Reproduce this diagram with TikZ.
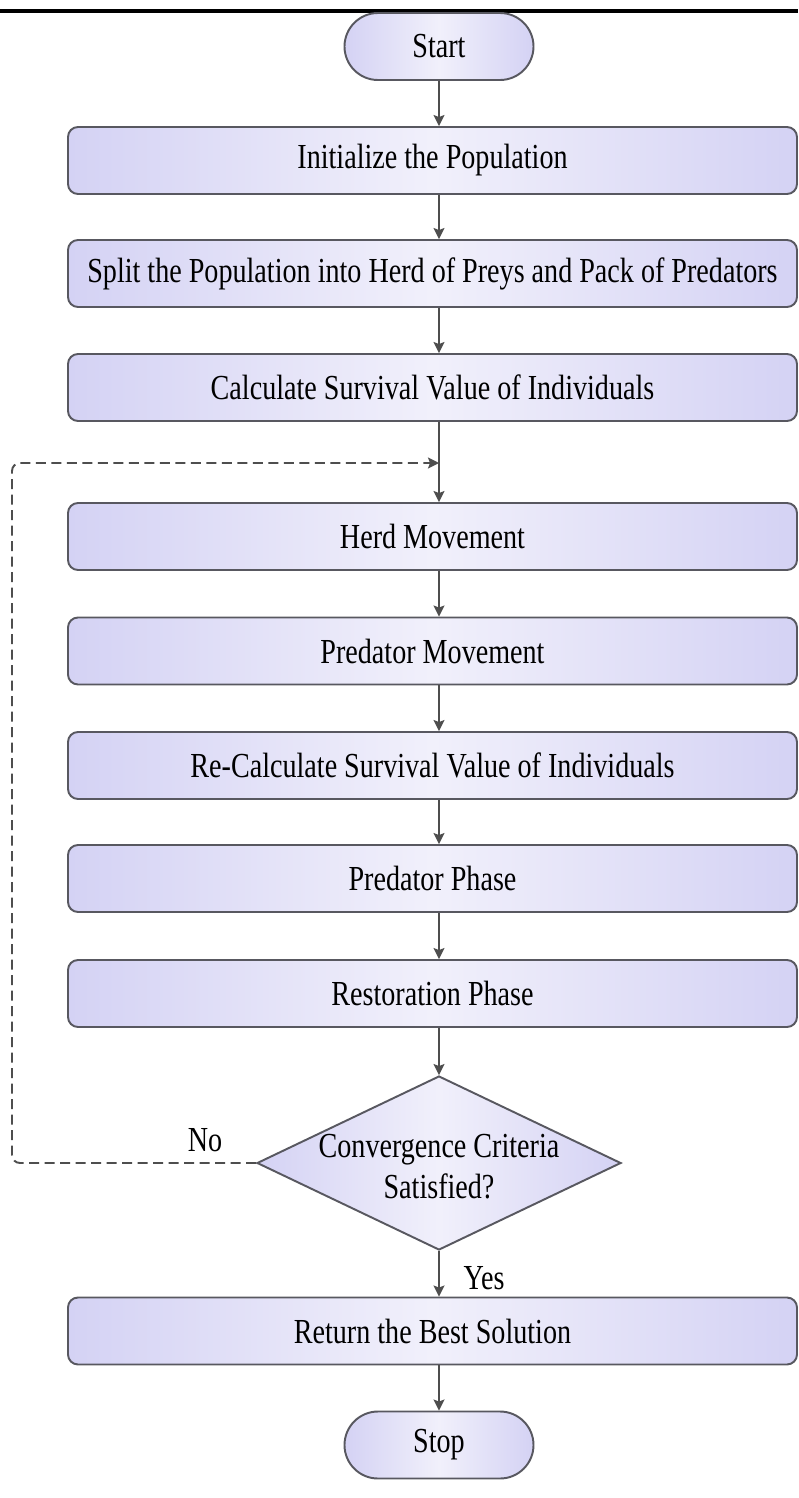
\documentclass[tikz,border=0pt]{standalone}
\usepackage{fontspec}
\setmainfont{Liberation Serif}[FakeStretch=0.8]
\usepackage{tikz}
\usetikzlibrary{shapes.geometric, arrows.meta, positioning}
\definecolor{lavdark}{RGB}{212, 210, 244}
\definecolor{lavlight}{RGB}{241, 240, 251}
\definecolor{edgegray}{RGB}{88, 88, 96}
\definecolor{flowgray}{RGB}{78, 78, 78}

\begin{document}
\begin{tikzpicture}[
  stepbox/.style={draw=edgegray, line width=1.1pt, rounded corners=0.2cm,
    left color=lavdark, right color=lavdark, middle color=lavlight,
    minimum width=14.58cm, minimum height=1.34cm, inner sep=0pt,
    font=\fontsize{20}{23}\selectfont},
  termbox/.style={stepbox, rounded corners=0.67cm, minimum width=3.78cm},
  decision/.style={draw=edgegray, line width=1.1pt, diamond,
    left color=lavdark, right color=lavdark, middle color=lavlight,
    minimum width=7.28cm, minimum height=3.48cm, inner sep=0pt,
    font=\fontsize{20}{23}\selectfont},
  flow/.style={-{Stealth[length=2.2mm, width=2.2mm, inset=0.4mm]}, line width=1.1pt, flowgray},
  loopback/.style={flow, dash pattern=on 0.2cm off 0.11cm, rounded corners=0.16cm},
  lbl/.style={font=\fontsize{20}{23}\selectfont}
]
  \useasboundingbox (0, 0) rectangle (15.96, -29.96);
  \fill[white] (0, 0) rectangle (15.96, -29.96);

  % Page rule
  \draw[line width=2.2pt] (0, -0.22) -- (15.96, -0.22);

  % Set-up
  \node[termbox] (start) at (8.78, -0.93) {Start};
  \node[stepbox] (init) at (8.65, -3.21) {Initialize the Population};
  \node[stepbox] (split) at (8.65, -5.47) {Split the Population into Herd of Preys and Pack of Predators};
  \node[stepbox] (calc) at (8.65, -7.75) {Calculate Survival Value of Individuals};
  \draw[flow] (start) -- (init.north -| start);
  \draw[flow] (init.south -| start) -- (split.north -| start);
  \draw[flow] (split.south -| start) -- (calc.north -| start);

  % Main loop
  \coordinate (join) at (8.78, -9.26);
  \node[stepbox] (herd) at (8.65, -10.73) {Herd Movement};
  \node[stepbox] (predmove) at (8.65, -13.02) {Predator Movement};
  \node[stepbox] (recalc) at (8.65, -15.31) {Re-Calculate Survival Value of Individuals};
  \node[stepbox] (predphase) at (8.65, -17.57) {Predator Phase};
  \node[stepbox] (restore) at (8.65, -19.87) {Restoration Phase};
  \draw[flow] (calc.south -| join) -- (herd.north -| join);
  \draw[flow] (herd.south -| join) -- (predmove.north -| join);
  \draw[flow] (predmove.south -| join) -- (recalc.north -| join);
  \draw[flow] (recalc.south -| join) -- (predphase.north -| join);
  \draw[flow] (predphase.south -| join) -- (restore.north -| join);

  % Convergence test
  \node[decision] (conv) at (8.78, -23.26)
    {\smash{\raisebox{-9pt}{\makebox[0pt]{\begin{tabular}{@{}c@{}}Convergence Criteria\\Satisfied?\end{tabular}}}}};
  \draw[flow] (restore.south -| conv) -- (conv.north);
  \draw[loopback] (conv.west) -- (0.24, -23.26) |- (join);
  \node[lbl] (nolbl) at (4.1, -22.8) {No};

  % Finish
  \node[stepbox] (best) at (8.65, -26.62) {Return the Best Solution};
  \node[termbox] (stop) at (8.78, -28.9) {Stop};
  \draw[flow] (conv.south) -- (best.north -| conv);
  \node[lbl] (yeslbl) at (9.68, -25.56) {Yes};
  \draw[flow] (best.south -| stop) -- (stop.north);
\end{tikzpicture}
\end{document}
